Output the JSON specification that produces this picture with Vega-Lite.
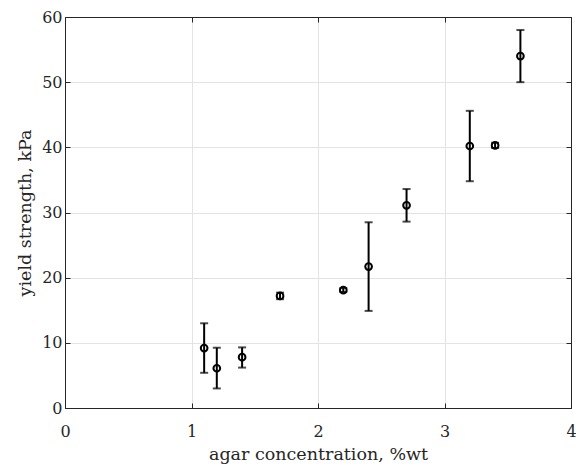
{
  "$schema": "https://vega.github.io/schema/vega-lite/v6.json",
  "autosize": "none",
  "width": 506,
  "height": 391,
  "padding": {"left": 65, "top": 17, "right": 5, "bottom": 61},
  "background": "white",
  "config": {
    "view": {"stroke": "#262626", "strokeWidth": 1},
    "font": "DejaVu Serif",
    "axis": {
      "labelFont": "DejaVu Serif",
      "titleFont": "DejaVu Serif",
      "labelFontSize": 16,
      "titleFontSize": 17.5,
      "labelColor": "#262626",
      "titleColor": "#262626",
      "titleFontWeight": "normal",
      "domainColor": "#262626",
      "tickColor": "#262626",
      "tickSize": -5,
      "labelFlush": false,
      "gridColor": "#e3e3e3",
      "gridWidth": 1
    }
  },
  "data": {
    "values": [
      {"c": 1.1, "y": 9.2, "lo": 5.4, "hi": 13.0},
      {"c": 1.2, "y": 6.1, "lo": 3.0, "hi": 9.25},
      {"c": 1.4, "y": 7.8, "lo": 6.2, "hi": 9.3},
      {"c": 1.7, "y": 17.2, "lo": 16.7, "hi": 17.7},
      {"c": 2.2, "y": 18.1, "lo": 17.8, "hi": 18.4},
      {"c": 2.4, "y": 21.7, "lo": 14.9, "hi": 28.5},
      {"c": 2.7, "y": 31.1, "lo": 28.6, "hi": 33.6},
      {"c": 3.2, "y": 40.2, "lo": 34.8, "hi": 45.6},
      {"c": 3.4, "y": 40.3, "lo": 39.9, "hi": 40.7},
      {"c": 3.6, "y": 54.0, "lo": 50.0, "hi": 58.0}
    ]
  },
  "layer": [
    {
      "mark": {"type": "rule", "color": "black", "strokeWidth": 2},
      "encoding": {
        "x": {"field": "c", "type": "quantitative", "scale": {"domain": [0, 4], "nice": false},
              "axis": {"orient": "bottom", "title": "agar concentration, %wt", "values": [0, 1, 2, 3, 4], "format": "d", "labelPadding": 20, "titlePadding": 6}},
        "y": {"field": "lo", "type": "quantitative", "scale": {"domain": [0, 60], "nice": false},
              "axis": {"orient": "left", "title": "yield strength, kPa", "values": [0, 10, 20, 30, 40, 50, 60], "labelPadding": 8, "titlePadding": 7}},
        "y2": {"field": "hi"}
      }
    },
    {
      "mark": {"type": "tick", "color": "black", "orient": "horizontal", "size": 8, "thickness": 2},
      "encoding": {
        "x": {"field": "c", "type": "quantitative", "axis": null},
        "y": {"field": "lo", "type": "quantitative", "axis": null}
      }
    },
    {
      "mark": {"type": "tick", "color": "black", "orient": "horizontal", "size": 8, "thickness": 2},
      "encoding": {
        "x": {"field": "c", "type": "quantitative", "axis": null},
        "y": {"field": "hi", "type": "quantitative", "axis": null}
      }
    },
    {
      "mark": {"type": "point", "shape": "circle", "filled": false, "color": "black", "strokeWidth": 2, "size": 45, "opacity": 1},
      "encoding": {
        "x": {"field": "c", "type": "quantitative",
              "axis": {"orient": "top", "labels": false, "title": null, "grid": false, "values": [0, 1, 2, 3, 4]}},
        "y": {"field": "y", "type": "quantitative",
              "axis": {"orient": "right", "labels": false, "title": null, "grid": false, "values": [0, 10, 20, 30, 40, 50, 60]}}
      }
    }
  ],
  "resolve": {"axis": {"x": "independent", "y": "independent"}}
}
